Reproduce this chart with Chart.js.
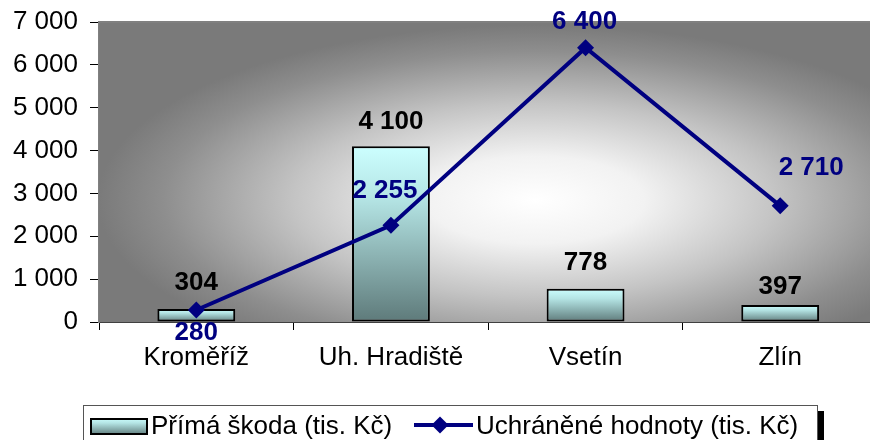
<!DOCTYPE html>
<html>
<head>
<meta charset="utf-8">
<script src="https://cdn.jsdelivr.net/npm/chart.js@4.4.0/dist/chart.umd.min.js"></script>
<style>
  html, body { margin: 0; padding: 0; background: #fff; overflow: hidden; }
  #wrap { width: 870px; height: 440px; overflow: hidden; }
</style>
</head>
<body>
<div id="wrap"><canvas id="skodyChart" width="886" height="440"></canvas></div>
<script>
// --- data ---
const okresy = ['Kroměříž', 'Uh. Hradiště', 'Vsetín', 'Zlín'];
const primaSkoda = [304, 4100, 778, 397];
const uchraneneHodnoty = [280, 2255, 6400, 2710];
const yTicks = [0, 1000, 2000, 3000, 4000, 5000, 6000, 7000];

// label offsets (px) - placed by hand like in the original
const barLabelDy = [-26, -24, -26, -18];
const lineLabelOff = [[0, 23], [-6, -35], [-1, -26], [31, -38]];

const FONT = '"Liberation Sans", Arial, sans-serif';
const navy = '#000080';

function formatCislo(v) {
    return String(v).replace(/\B(?=(\d{3})+(?!\d))/g, ' ');
}

function barGradient(ctx2d, top, bottom) {
    const g = ctx2d.createLinearGradient(0, top, 0, bottom);
    g.addColorStop(0, '#ccffff');
    g.addColorStop(0.3, '#b4e4e4');
    g.addColorStop(1, '#5e7a7a');
    return g;
}

// pozadi plochy grafu
const pozadiPlugin = {
    id: 'pozadi',
    beforeDatasetsDraw(chart) {
        const { ctx, chartArea: a } = chart;
        ctx.save();
        ctx.beginPath();
        ctx.rect(a.left, a.top, a.right - a.left, a.bottom - a.top);
        ctx.clip();
        ctx.fillStyle = '#7a7a7a';
        ctx.fillRect(a.left, a.top, a.right - a.left, a.bottom - a.top);
        ctx.translate(535, 200);
        ctx.scale(2.5, 1);
        const g = ctx.createRadialGradient(0, 0, 0, 0, 0, 175);
        g.addColorStop(0, '#ffffff');
        g.addColorStop(0.25, '#f2f2f2');
        g.addColorStop(0.55, '#c4c4c4');
        g.addColorStop(0.85, '#8e8e8e');
        g.addColorStop(1, '#7a7a7a');
        ctx.fillStyle = g;
        ctx.fillRect(-200, -200, 400, 400);
        ctx.restore();

        ctx.save();
        ctx.strokeStyle = '#808080';
        ctx.lineWidth = 2;
        ctx.beginPath();
        ctx.moveTo(a.left, a.top);
        ctx.lineTo(a.right, a.top);
        ctx.stroke();
        ctx.restore();
    }
};

// popisky hodnot
const popiskyPlugin = {
    id: 'popisky',
    afterDatasetsDraw(chart) {
        const ctx = chart.ctx;
        ctx.save();
        ctx.font = 'bold 26px ' + FONT;
        ctx.textAlign = 'center';
        ctx.textBaseline = 'middle';

        const barMeta = chart.getDatasetMeta(0);
        barMeta.data.forEach((bar, i) => {
            ctx.fillStyle = '#000';
            ctx.fillText(formatCislo(primaSkoda[i]), bar.x, bar.y + barLabelDy[i]);
        });

        const lineMeta = chart.getDatasetMeta(1);
        lineMeta.data.forEach((pt, i) => {
            ctx.fillStyle = navy;
            ctx.fillText(formatCislo(uchraneneHodnoty[i]), pt.x + lineLabelOff[i][0], pt.y + lineLabelOff[i][1]);
        });
        ctx.restore();
    }
};

// legenda ve stylu Excelu
const legendaPlugin = {
    id: 'legenda',
    afterDraw(chart) {
        const ctx = chart.ctx;
        const ds = chart.data.datasets;
        ctx.save();
        // stin a ramecek
        ctx.fillStyle = '#000';
        ctx.fillRect(818, 411, 6, 40);
        ctx.fillStyle = '#fff';
        ctx.fillRect(83, 405.5, 734, 40);
        ctx.strokeStyle = '#555';
        ctx.lineWidth = 1;
        ctx.strokeRect(83.5, 405.5, 734, 40);

        // bar symbol
        ctx.fillStyle = barGradient(ctx, 418, 435);
        ctx.fillRect(90, 418, 58, 17);
        ctx.strokeStyle = '#000';
        ctx.lineWidth = 2;
        ctx.strokeRect(91, 419, 56, 15);

        ctx.font = '26px ' + FONT;
        ctx.textBaseline = 'middle';
        ctx.textAlign = 'left';
        ctx.fillStyle = '#000';
        ctx.fillText(ds[0].label, 151, 427);

        // line symbol
        ctx.strokeStyle = navy;
        ctx.lineWidth = 4;
        ctx.beginPath();
        ctx.moveTo(414, 425);
        ctx.lineTo(473, 425);
        ctx.stroke();
        ctx.fillStyle = navy;
        ctx.beginPath();
        ctx.moveTo(440, 416.5);
        ctx.lineTo(448.5, 425);
        ctx.lineTo(440, 433.5);
        ctx.lineTo(431.5, 425);
        ctx.closePath();
        ctx.fill();

        ctx.fillStyle = '#000';
        ctx.fillText(ds[1].label, 476, 427);
        ctx.restore();
    }
};

const ctxSkody = document.getElementById('skodyChart').getContext('2d');
const skodyChart = new Chart(ctxSkody, {
    type: 'bar',
    data: {
        labels: okresy,
        datasets: [{
            type: 'bar',
            label: 'Přímá škoda (tis. Kč)',
            data: primaSkoda,
            order: 1,
            backgroundColor: (c) => {
                const ch = c.chart;
                if (!ch.chartArea || c.raw === undefined) return '#aadddd';
                const top = ch.scales.y.getPixelForValue(c.raw);
                const bottom = ch.scales.y.getPixelForValue(0);
                return barGradient(ch.ctx, top, bottom);
            },
            borderColor: '#000',
            borderWidth: 2,
            borderSkipped: false,
            barPercentage: 0.8,
            categoryPercentage: 0.5
        }, {
            type: 'line',
            label: 'Uchráněné hodnoty (tis. Kč)',
            data: uchraneneHodnoty,
            order: 0,
            borderColor: navy,
            borderWidth: 4,
            tension: 0,
            pointStyle: 'rectRot',
            pointRadius: 8.5,
            pointBackgroundColor: navy,
            pointBorderColor: navy,
            pointBorderWidth: 0
        }]
    },
    options: {
        responsive: false,
        animation: false,
        layout: { padding: { top: 22, right: 3, bottom: 58, left: 0 } },
        plugins: {
            legend: { display: false },
            tooltip: { enabled: false }
        },
        scales: {
            x: {
                offset: true,
                grid: {
                    offset: true,
                    drawOnChartArea: false,
                    drawTicks: true,
                    tickLength: 8,
                    color: '#000'
                },
                border: { color: '#404040', width: 2 },
                ticks: {
                    color: '#000',
                    padding: 12,
                    maxRotation: 0,
                    font: { family: FONT, size: 26 }
                },
                afterFit: (s) => { s.height = 60; s.paddingLeft = 0; s.paddingRight = 0; }
            },
            y: {
                min: 0,
                max: 7000,
                afterBuildTicks: (s) => { s.ticks = yTicks.map(v => ({ value: v })); },
                grid: {
                    drawOnChartArea: false,
                    drawTicks: true,
                    tickLength: 9,
                    color: '#000'
                },
                border: { color: '#808080', width: 2 },
                ticks: {
                    color: '#000',
                    padding: 12,
                    font: { family: FONT, size: 26 },
                    callback: (v) => formatCislo(v)
                },
                afterFit: (s) => { s.width = 99; s.paddingTop = 0; s.paddingBottom = 0; }
            }
        }
    },
    plugins: [pozadiPlugin, popiskyPlugin, legendaPlugin]
});
</script>
</body>
</html>
